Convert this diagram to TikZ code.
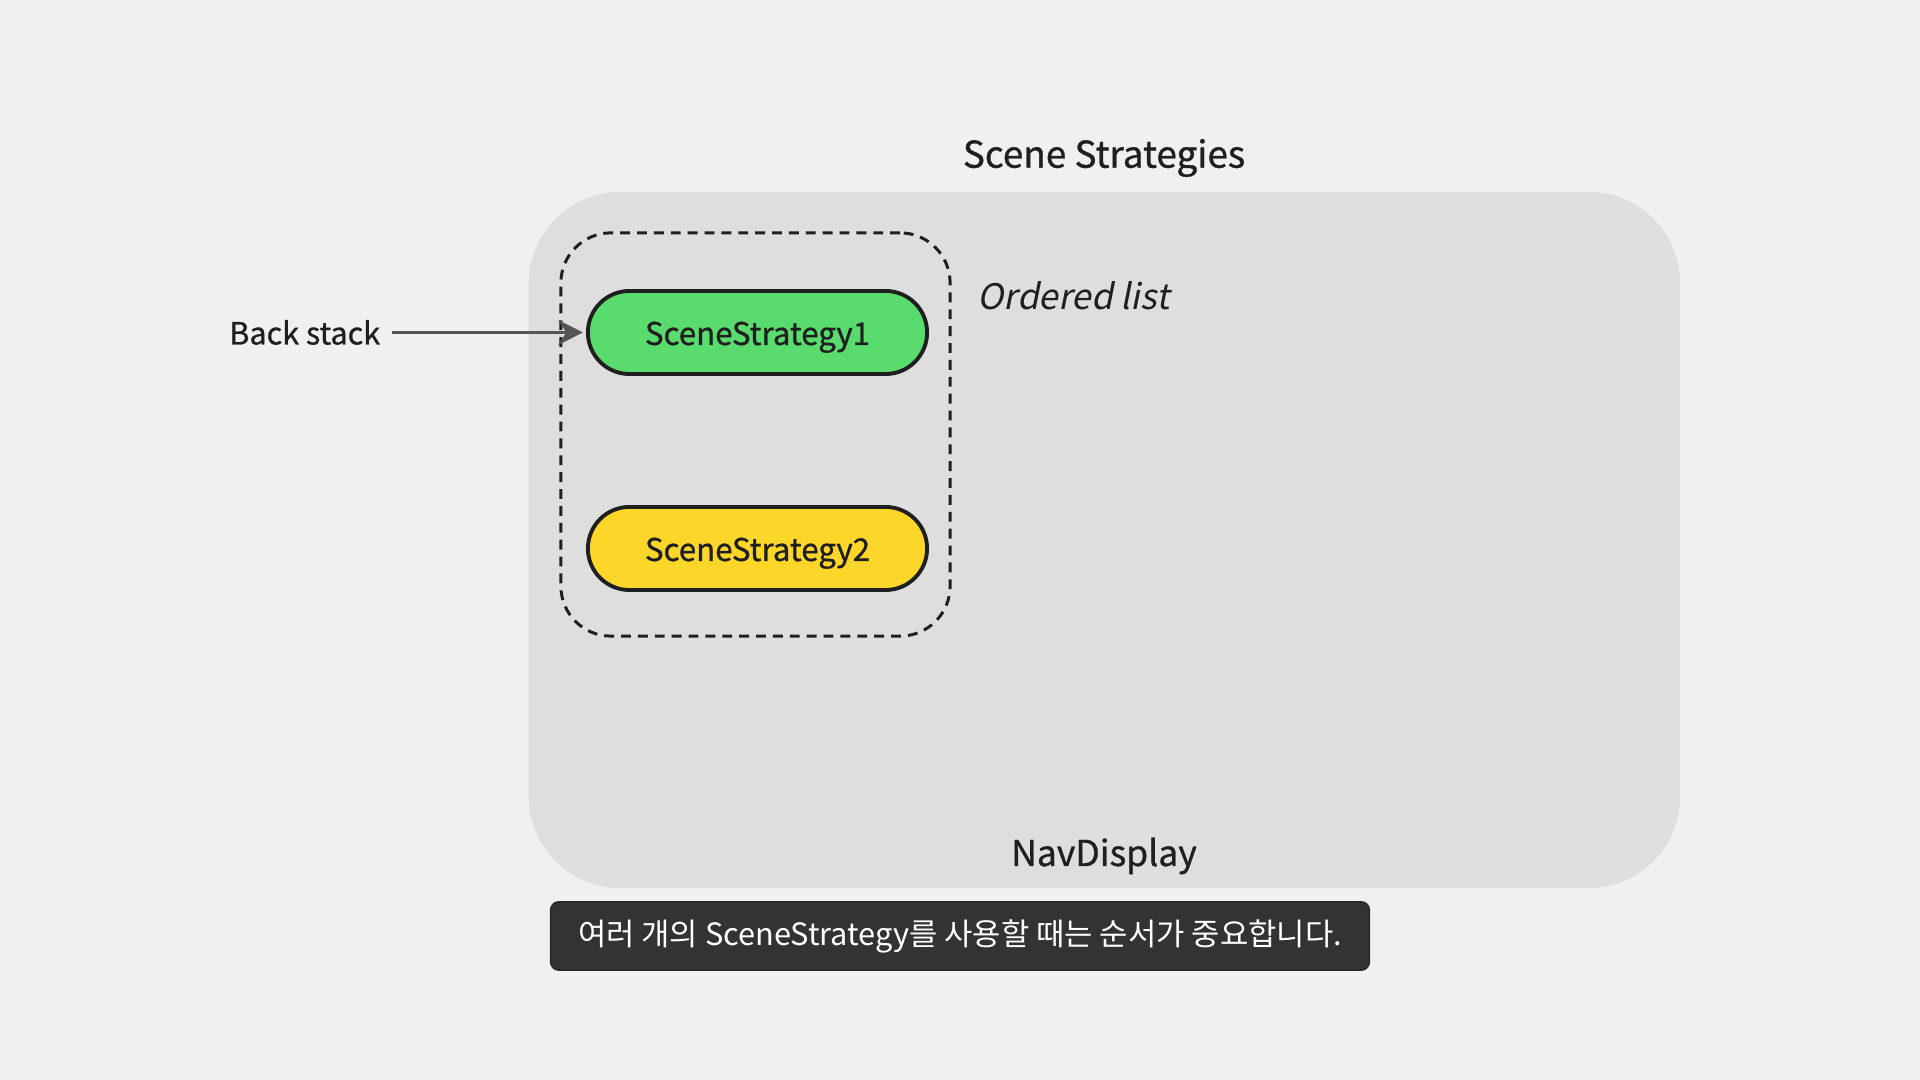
\documentclass[tikz,border=0pt]{standalone}
\usepackage{fontspec}
\setmainfont{Noto Sans CJK KR}[AutoFakeSlant=0.2]
\newfontfamily\medfont{Noto Sans CJK KR}[FakeBold=0.8]
\usetikzlibrary{positioning}
\usetikzlibrary{arrows.meta}
\definecolor{pagebg}{HTML}{F0F0F0}
\definecolor{panelgray}{HTML}{DEDEDE}
\definecolor{inkdark}{HTML}{1F1F1F}
\definecolor{arrowgray}{HTML}{555555}
\definecolor{pillgreen}{HTML}{5ADB6E}
\definecolor{pillyellow}{HTML}{FDD62A}
\definecolor{captionbg}{HTML}{333333}
\newcommand{\pilltext}[1]{\lower1.5pt\hbox{#1}}
\tikzset{strategy node/.style={shape=rectangle,
    draw=inkdark, line width=1.1pt, rounded corners=0.415cm,
    minimum width=3.39cm, minimum height=0.83cm,
    text height=5.9pt, text depth=1.8pt,
    text=inkdark, font=\medfont\fontsize{8.9}{11}\selectfont}}
\tikzset{plain text/.style={text=inkdark, inner sep=0pt,
    font=\medfont\fontsize{8.7}{11}\selectfont}}

\begin{document}
\begin{tikzpicture}[x=0.01cm, y=-0.01cm]
    \useasboundingbox[fill=pagebg] (0,0) rectangle (1920,1080);

    \node[fill=panelgray, rounded corners=0.92cm,
          minimum width=11.51cm, minimum height=6.96cm] (display) at (1104.5,540) {};
    \node[plain text, font=\medfont\fontsize{10.5}{13}\selectfont] (title) at (1104,158) {Scene Strategies};
    \node[plain text, font=\medfont\fontsize{10.1}{13}\selectfont] (navdisplay) at (1104,856) {NavDisplay};

    \node[draw=inkdark, line width=0.85pt, dash pattern=on 2.8pt off 2pt,
          rounded corners=0.5cm, minimum width=3.89cm, minimum height=4.03cm] (ordered) at (755.5,434.5) {};
    \node[plain text, font=\fontsize{10}{12}\selectfont\itshape, anchor=west] (orderedlbl) at (977,296) {Ordered list};

    \node[strategy node, fill=pillgreen] (s1) at (757.5,332.5) {\pilltext{SceneStrategy1}};
    \node[strategy node, fill=pillyellow] (s2) [below = 1.29cm of s1] {\pilltext{SceneStrategy2}};

    \node[plain text] (back) [left = 2.05cm of s1] {Back stack};

    \node[fill=captionbg, draw=captionbg!80!black, line width=0.5pt, rounded corners=0.08cm,
          minimum width=8.18cm, minimum height=0.68cm, text=white,
          font=\fontsize{8.75}{11}\selectfont] (caption) at (960,936)
          {\raisebox{-0.4pt}{여러 개의 SceneStrategy를 사용할 때는 순서가 중요합니다.}};

    \path[draw, arrowgray, line width=0.85pt, -{Stealth[length=7pt, width=7pt]},
          shorten <=0.11cm, shorten >=0.03cm]
    (back) edge node {} (s1)
    ;
\end{tikzpicture}
\end{document}
